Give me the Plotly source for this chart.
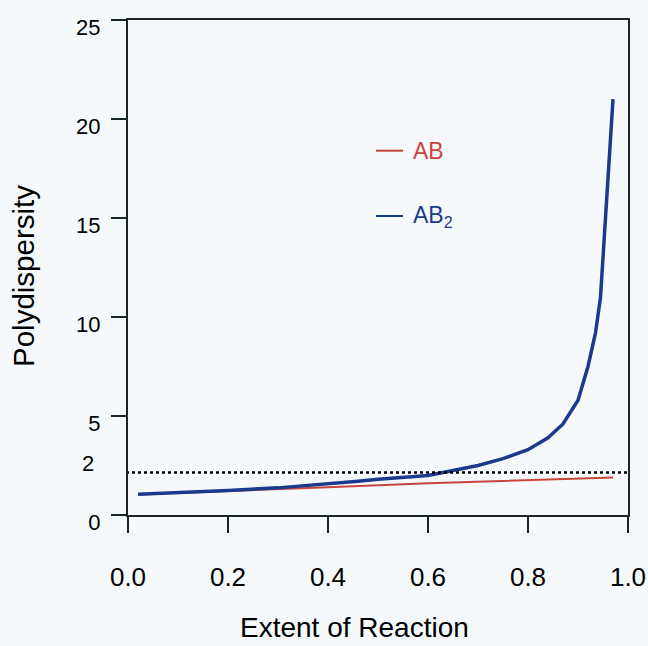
import plotly.graph_objects as go

# ---- data ----
extent_ab = [0.02, 0.2, 0.4, 0.6, 0.8, 0.97]
pdi_ab = [1.04, 1.2, 1.4, 1.6, 1.75, 1.9]

extent_ab2 = [0.02, 0.1, 0.2, 0.3, 0.4, 0.46, 0.5, 0.55, 0.6, 0.65, 0.7, 0.75,
              0.8, 0.84, 0.87, 0.9, 0.92, 0.935, 0.945, 0.97]
pdi_ab2 = [1.05, 1.12, 1.24, 1.37, 1.55, 1.7, 1.8, 1.9, 2.0, 2.25, 2.5, 2.85,
           3.3, 3.9, 4.6, 5.8, 7.5, 9.2, 11.0, 21.0]

reference_pdi = 2.15
reference_label = "2"
x_ticks = [0.0, 0.2, 0.4, 0.6, 0.8, 1.0]
x_ticktext = ["0.0", "0.2", "0.4", "0.6", "0.8", "1.0"]
y_ticks = [0, 5, 10, 15, 20, 25]

RED = "#c8453c"
BLUE = "#1c3a8c"
AXIS = "#1b2626"
BG = "#f6f9fc"
FONT = "Liberation Sans"

fig = go.Figure()
fig.add_trace(go.Scatter(x=extent_ab, y=pdi_ab, mode="lines",
                         line=dict(color=RED, width=2), showlegend=False))
fig.add_trace(go.Scatter(x=extent_ab2, y=pdi_ab2, mode="lines",
                         line=dict(color=BLUE, width=3.5), showlegend=False))

# dotted reference line
fig.add_shape(type="line", xref="x", yref="y", x0=-0.016, x1=1.016,
              y0=reference_pdi, y1=reference_pdi,
              line=dict(color="black", width=2.5, dash="dot"))

# "2" label (no tick mark)
fig.add_annotation(xref="paper", yref="y", x=0, y=reference_pdi, text=reference_label,
                   showarrow=False, xanchor="right", yanchor="middle",
                   xshift=-32, yshift=9, font=dict(family=FONT, size=22, color="black"))

# legend built by hand
for label, color, ypos in [("AB", RED, 18.4), ("AB<sub>2</sub>", BLUE, 15.1)]:
    fig.add_shape(type="line", xref="x", yref="y", x0=0.496, x1=0.55,
                  y0=ypos, y1=ypos, line=dict(color=color, width=2))
    fig.add_annotation(xref="x", yref="y", x=0.566, y=ypos, text=label,
                       showarrow=False, xanchor="left", yanchor="middle",
                       font=dict(family=FONT, size=23, color=color))

# axis titles
fig.add_annotation(xref="paper", yref="paper", x=(354 - 128) / 500, y=-(645 - 515) / 495,
                   text="Extent of Reaction", showarrow=False, xanchor="center",
                   yanchor="bottom", font=dict(family=FONT, size=28, color="black"))
fig.add_annotation(xref="paper", yref="paper", x=-(128 - 23) / 500, y=(515 - 276) / 495,
                   text="Polydispersity", textangle=-90, showarrow=False,
                   xanchor="center", yanchor="middle",
                   font=dict(family=FONT, size=29.5, color="black"))

fig.update_layout(
    width=648, height=646,
    margin=dict(l=128, r=20, t=20, b=131, autoexpand=False),
    paper_bgcolor=BG, plot_bgcolor=BG,
    font=dict(family=FONT, color="black"),
    xaxis=dict(range=[0, 1], tickvals=x_ticks, ticktext=x_ticktext,
               showline=True, linecolor=AXIS, linewidth=2, mirror=True,
               ticks="outside", ticklen=16, tickwidth=2, tickcolor=AXIS,
               ticklabelstandoff=22, showgrid=False, zeroline=False,
               automargin=False,
               tickfont=dict(family=FONT, size=26, color="black")),
    yaxis=dict(range=[0, 25], tickvals=y_ticks,
               showline=True, linecolor=AXIS, linewidth=2, mirror=True,
               ticks="outside", ticklen=15, tickwidth=2, tickcolor=AXIS,
               ticklabelshift=7, ticklabelstandoff=6,
               showgrid=False, zeroline=False, automargin=False,
               tickfont=dict(family=FONT, size=22, color="black")),
)

fig.write_html("out.html", config={"displayModeBar": False},
               post_script="document.body.style.margin='0';document.body.style.background='%s';" % BG)
